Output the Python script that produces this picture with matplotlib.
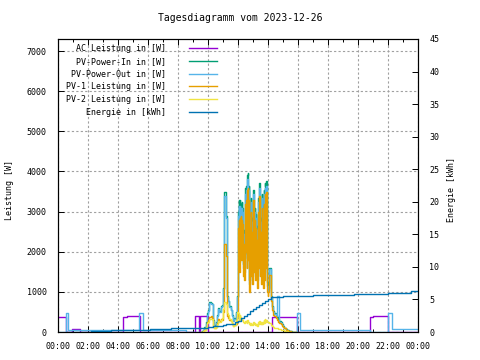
import numpy as np
import matplotlib.pyplot as plt
from matplotlib.ticker import MultipleLocator, FuncFormatter

plt.rcParams['font.family'] = ['DejaVu Sans Mono']
plt.rcParams['font.size'] = 6

# --- AC Leistung (W), step data
ac_hours = [0.0, 0.53, 0.9, 1.47, 4.35, 4.6, 4.75, 5.0, 5.2, 5.47, 9.13, 9.42, 9.44, 10.0,
            14.25, 15.9, 20.8, 21.0, 21.2, 22.0, 24.0]
ac_watt = [380, 0, 70, 0, 380, 400, 390, 405, 400, 0, 400, 0, 400, 0,
           380, 0, 380, 400, 405, 0, 0]

# --- morning samples every 5 min, 09:30 .. 11:55
am_in = [0, 20, 60, 120, 250, 480, 560, 740, 730, 700, 300, 180, 250, 420, 600, 520, 640, 680,
         1100, 3480, 2900, 900, 780, 650, 560, 420, 300, 350, 500, 900]
am_out = [0, 10, 40, 100, 200, 420, 520, 720, 710, 690, 280, 160, 230, 400, 580, 500, 620, 660,
          1060, 3400, 2850, 870, 760, 620, 540, 400, 280, 330, 470, 860]
am_pv1 = [0, 10, 30, 60, 120, 250, 300, 380, 400, 360, 150, 90, 120, 220, 320, 270, 330, 300,
          500, 2200, 1900, 400, 350, 300, 280, 200, 150, 180, 200, 400]
am_pv2 = [0, 10, 30, 60, 120, 220, 260, 330, 320, 320, 140, 90, 120, 190, 270, 240, 300, 360,
          580, 750, 700, 480, 420, 330, 280, 220, 150, 170, 300, 500]

# --- midday samples every 2 min, 12:00 .. 13:58
mid_in = [3000, 3300, 1850, 3300, 3150, 3200, 2150, 3250, 3100, 2750,
          1700, 2550, 1600, 3350, 3600,
          2350, 3650, 1950, 3900, 3950, 2150, 3650,
          1300, 2950, 2150, 3350, 1750, 2850, 1500, 3250,
          3550, 3500, 1800, 3100, 1600,
          2950, 2050, 2650, 1400, 2350,
          3350, 1950, 3700, 3600, 1700,
          2850, 1500, 3450, 1800, 3150,
          1400, 3550, 1600, 3700, 3650,
          1900, 3750, 3600, 1250, 1150]
mid_out = [2900, 3150, 1750, 3150, 3050, 3100, 2050, 3100, 3000, 2650,
           1600, 2450, 1500, 3250, 3450,
           2250, 3550, 1850, 3800, 3800, 2050, 3550,
           1200, 2850, 2050, 3250, 1650, 2750, 1400, 3150,
           3450, 3400, 1700, 3000, 1500,
           2850, 1950, 2550, 1300, 2250,
           3250, 1850, 3600, 3500, 1600,
           2750, 1400, 3350, 1700, 3050,
           1300, 3450, 1500, 3600, 3550,
           1800, 3650, 3500, 1150, 1050]
mid_pv1 = [2600, 2800, 1500, 2850, 2750, 2900, 1800, 2800, 2700, 2400,
           1400, 2200, 1300, 3000, 3200,
           2000, 3300, 1600, 3550, 3600, 1800, 3300,
           1000, 2600, 1800, 3000, 1400, 2500, 1200, 2900,
           3300, 3200, 1500, 2800, 1300,
           2600, 1700, 2300, 1100, 2000,
           3000, 1600, 3400, 3300, 1400,
           2500, 1200, 3100, 1500, 2800,
           1100, 3200, 1300, 3450, 3400,
           1600, 3500, 3300, 1000, 900]
mid_pv2 = [480, 450, 300, 420, 380, 350, 300, 330, 300, 280,
           250, 260, 220, 260, 280,
           250, 270, 230, 300, 280, 240, 260,
           200, 220, 180, 230, 200, 210, 180, 240,
           250, 230, 190, 220, 180,
           200, 170, 210, 160, 220,
           260, 200, 280, 260, 200,
           240, 190, 260, 210, 250,
           220, 290, 230, 320, 300,
           260, 300, 280, 250, 240]

# --- afternoon samples every 5 min, 14:00 .. 15:50
pm_in = [1100, 1600, 900, 650, 520, 480, 420, 380, 330, 280, 240, 190,
         150, 110, 80, 60, 40, 30, 20, 10, 0, 0, 0]
pm_out = [1050, 1580, 870, 620, 500, 460, 400, 900, 900, 260, 220, 170,
          130, 90, 60, 40, 30, 20, 10, 0, 0, 0, 0]
pm_pv1 = [1000, 1420, 780, 550, 430, 400, 340, 300, 260, 220, 190, 150,
          120, 90, 60, 40, 30, 20, 10, 5, 0, 0, 0]
pm_pv2 = [250, 220, 180, 160, 130, 110, 100, 90, 80, 70, 60, 50,
          40, 30, 20, 15, 10, 5, 0, 0, 0, 0, 0]

# --- PV-Power-Out outside the day window
out_night_am_hours = [0.0, 0.53, 0.69, 5.42, 5.69, 8.5]
out_night_am_watt = [0, 470, 50, 470, 50, 0]
out_night_pm_hours = [15.9, 16.1, 20.8, 22.0, 22.25, 24.0]
out_night_pm_watt = [470, 40, 0, 470, 65, 65]

# --- Energie (kWh)
en_hours = [0.6, 2.2, 3.5, 6.1, 7.5, 9.5, 10.0, 10.3, 10.7, 11.0, 11.2, 11.5, 11.8, 12.0, 12.2,
            12.4, 12.6, 12.8, 13.0, 13.2, 13.4, 13.6, 13.8, 14.0, 14.2, 14.5, 15.0, 16.0,
            17.0, 19.7, 22.0, 23.5, 24.0]
en_kwh = [0.0, 0.12, 0.28, 0.42, 0.55, 0.65, 0.75, 0.85, 0.95, 1.05, 1.2, 1.3, 1.5, 1.75, 2.1,
          2.45, 2.8, 3.15, 3.5, 3.85, 4.2, 4.5, 4.8, 5.05, 5.3, 5.4, 5.5, 5.6,
          5.75, 5.9, 6.05, 6.25, 6.25]

am_hours = 9.5 + np.arange(len(am_in)) * 5 / 60
mid_hours = 12.0 + np.arange(len(mid_in)) * 2 / 60
pm_hours = 14.0 + np.arange(len(pm_in)) * 5 / 60
day_hours = np.concatenate([am_hours, mid_hours, pm_hours])
pv_in = np.concatenate([am_in, mid_in, pm_in])
pv1 = np.concatenate([am_pv1, mid_pv1, pm_pv1])
pv2 = np.concatenate([am_pv2, mid_pv2, pm_pv2])
out_hours = np.concatenate([out_night_am_hours, day_hours, out_night_pm_hours])
out_watt = np.concatenate([out_night_am_watt, am_out, mid_out, pm_out, out_night_pm_watt])

fig = plt.figure(figsize=(4.8, 3.6), dpi=100)
ax = fig.add_axes([58 / 480, 28 / 360, 360 / 480, 293 / 360])
ax2 = ax.twinx()

lw = 1.0
l_ac, = ax.step(ac_hours, ac_watt, where='post', color='#9400d3', lw=lw)
l_in, = ax.step(day_hours, pv_in, where='post', color='#009e73', lw=lw)
l_out, = ax.step(out_hours, out_watt, where='post', color='#56b4e9', lw=lw)
l_p1, = ax.step(day_hours, pv1, where='post', color='#e69f00', lw=lw)
l_p2, = ax.step(day_hours, pv2, where='post', color='#f0e442', lw=lw)
l_en, = ax2.step(en_hours, en_kwh, where='post', color='#0072b2', lw=lw)

ax.set_xlim(0, 24)
ax.set_ylim(0, 7300)
ax2.set_ylim(0, 45)

ax.xaxis.set_major_locator(MultipleLocator(2))
ax.xaxis.set_minor_locator(MultipleLocator(1))
ax.xaxis.set_major_formatter(FuncFormatter(lambda v, p: f"{int(round(v)) % 24:02d}:00"))
ax.yaxis.set_major_locator(MultipleLocator(1000))
ax2.yaxis.set_major_locator(MultipleLocator(5))

ax.tick_params(axis='x', which='both', direction='in', top=True, pad=7, labelsize=6)
ax.tick_params(axis='x', which='major', length=4, width=0.7)
ax.tick_params(axis='x', which='minor', length=2, width=0.7)
ax.tick_params(axis='y', direction='in', right=False, length=4, width=0.7, pad=8, labelsize=6)
ax2.tick_params(axis='y', direction='in', length=4, width=0.7, pad=8, labelsize=6)

ax.grid(True, which='major', color='#a0a0a0', linestyle=(0, (2, 2)), linewidth=0.8)
for a in (ax, ax2):
    for s in a.spines.values():
        s.set_linewidth(0.8)
        s.set_color('black')

fig.text(0.5, 1 - 18 / 360, 'Tagesdiagramm vom 2023-12-26', ha='center', va='center', fontsize=7)
fig.text(10 / 480, 1 - 190 / 360, 'Leistung [W]', rotation=90, ha='center', va='center', fontsize=6)
fig.text(452 / 480, 1 - 190 / 360, 'Energie [kWh]', rotation=90, ha='center', va='center', fontsize=6)

handles = [l_ac, l_in, l_out, l_p1, l_p2, l_en]
labels = ['AC Leistung in [W]', 'PV-Power-In in [W]', 'PV-Power-Out in [W]',
          'PV-1 Leistung in [W]', 'PV-2 Leistung in [W]', 'Energie in [kWh]']
ax2.legend(handles, labels, loc='upper left', bbox_to_anchor=(8 / 360, 1 - 5 / 293),
           markerfirst=False, frameon=False, handlelength=3.3, handletextpad=2.8,
           labelspacing=0.45, borderaxespad=0, borderpad=0, fontsize=6)

fig.savefig('out.png', dpi=100)
